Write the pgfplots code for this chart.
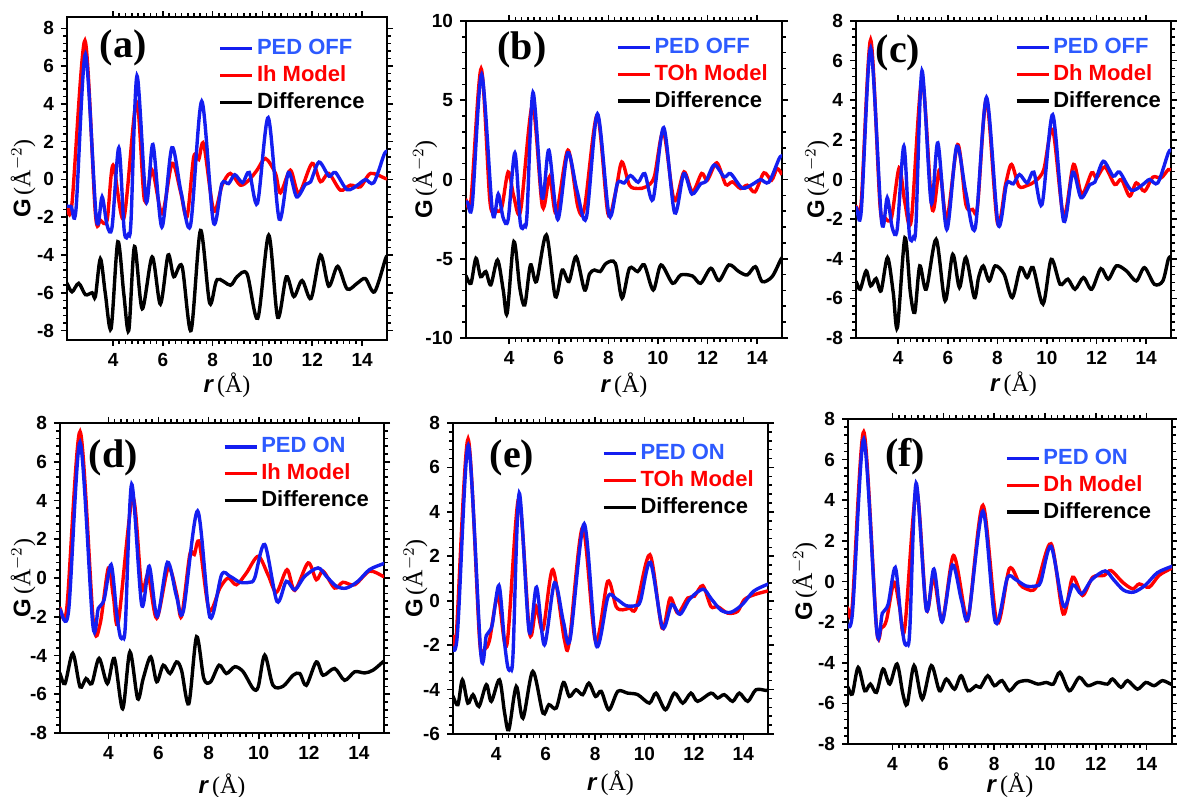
\documentclass[border=0pt]{standalone}
\usepackage{fontspec}
\setmainfont{Liberation Sans}
\newfontfamily\serif{Liberation Serif}
\usepackage{pgfplots}
\usepackage{pgfplotstable}
\pgfplotsset{compat=1.18}
\definecolor{bl}{RGB}{20,30,240}
\definecolor{blt}{RGB}{45,90,255}
\definecolor{rd}{RGB}{255,0,0}

\pgfplotstableread{
x y
2.05 -1.42
2.31 -1.43
2.51 -1.6
2.89 6.63
3.33 -2.1
3.56 -0.92
3.76 -2.43
3.96 -2.52
4.23 1.68
4.45 -2.75
4.62 -2.9
4.72 -2.2
4.96 5.49
5.33 -1.17
5.6 1.85
5.96 -2.52
6.36 1.68
6.73 -0.67
7.11 -2.43
7.56 4.14
8.03 -2.27
8.37 -0.22
8.64 -0.22
8.89 0.25
9.2 -0.17
9.47 0.37
9.8 -1.26
10.23 3.27
10.67 -2.1
11.04 0.37
11.37 -0.92
11.73 -0.25
11.93 -0.13
12.27 0.92
12.67 0.17
12.93 0.37
13.4 -0.54
13.87 -0.25
14.13 0
14.47 -0.17
14.89 1.34
15.0 1.45
}\blueOff

\pgfplotstableread{
x y
2.0 -1.62
2.07 -1.64
2.41 -1.73
2.87 7.0
3.38 -2.42
3.6 -1.56
3.83 -1.12
4.11 0.69
4.33 -1.82
4.47 -3.0
4.58 -3.06
4.68 -2.4
4.93 4.84
5.33 -1.38
5.63 0.61
5.95 -1.99
6.36 0.81
6.72 -0.95
6.99 -1.73
7.56 3.46
8.05 -2.02
8.52 0.17
8.85 0.09
9.25 -0.22
9.64 -0.22
9.84 0
10.24 1.73
10.73 -1.21
11.1 -0.17
11.44 -0.61
11.84 0.09
12.37 0.52
12.7 0.09
13.1 -0.43
13.5 -0.52
13.96 -0.17
14.42 0.43
14.98 0.74
15.0 0.75
}\blueOn

\pgfplotstableread{
x y
2.05 -1.45
2.15 -1.48
2.35 -1.27
2.87 7.35
3.29 -1.8
3.49 -2.16
3.76 -2.16
4.0 0.76
4.43 -2.07
4.94 4.12
5.26 -1.1
5.57 0.49
5.97 -1.8
6.37 0.85
6.71 -0.65
6.97 -1.98
7.24 1.2
7.44 1.06
7.64 1.87
8.04 -1.63
8.38 -0.3
8.71 0.32
9.11 -0.3
9.45 -0.04
9.78 0.49
10.12 1.11
10.52 0.32
10.72 -0.71
11.12 0.49
11.46 -0.74
11.99 0.85
12.33 -0.12
12.66 0.32
13.13 -0.57
13.53 -0.3
13.93 -0.39
14.34 0.32
14.94 0.05
15.0 0.05
}\redA

\pgfplotstableread{
x y
2.05 -5.4
2.15 -5.5
2.35 -5.95
2.62 -5.5
2.89 -6.1
3.16 -6.0
3.29 -6.2
3.49 -4.2
3.69 -6.05
3.92 -7.9
4.19 -3.3
4.43 -6.05
4.63 -8.0
4.86 -3.55
5.17 -6.85
5.57 -4.1
5.9 -6.6
6.21 -4.0
6.44 -5.15
6.77 -4.6
7.13 -8.0
7.51 -2.7
7.88 -6.55
8.18 -5.3
8.71 -5.6
8.98 -5.15
9.38 -5.0
9.81 -7.35
10.25 -2.95
10.61 -7.3
10.96 -5.15
11.26 -6.2
11.59 -5.35
11.95 -6.3
12.33 -4.0
12.66 -5.65
13.02 -4.6
13.4 -5.8
13.8 -5.5
14.13 -5.25
14.5 -5.95
14.94 -4.2
15.0 -4.1
}\diffA

\pgfplotstableread{
x y
2.2 -1.3
2.26 -1.3
2.46 -1.3
2.87 6.99
3.22 -1.3
3.42 -1.89
3.69 -1.83
3.96 0.48
4.19 -1.09
4.46 -1.97
4.94 4.68
5.34 -1.72
5.63 0.17
5.9 -2.14
6.37 1.85
6.77 -1.72
7.04 -1.76
7.55 4.05
7.98 -2.14
8.28 -0.88
8.54 1.11
8.85 -0.36
9.18 -0.57
9.52 -0.46
9.85 0.17
10.22 3.0
10.65 -1.3
11.05 0.48
11.39 -0.78
11.76 0.38
11.99 -0.04
12.37 1.05
12.73 -0.31
13.0 -0.15
13.33 -0.57
13.6 -0.36
13.91 -0.78
14.27 0.42
14.58 -0.04
14.8 0.69
15.0 0.3
}\redB

\pgfplotstableread{
x y
2.2 -6.0
2.26 -6.09
2.46 -6.55
2.66 -4.97
2.85 -6.13
3.06 -5.81
3.26 -6.65
3.53 -5.08
3.76 -6.97
3.92 -8.44
4.19 -3.92
4.43 -6.86
4.63 -7.91
4.86 -5.39
5.1 -6.44
5.5 -3.5
5.86 -7.39
6.14 -5.71
6.41 -6.44
6.7 -4.87
7.04 -6.97
7.24 -5.96
7.44 -5.71
7.67 -5.81
7.91 -5.29
8.28 -5.29
8.55 -7.49
8.85 -5.6
9.18 -5.81
9.45 -5.39
9.81 -6.97
10.12 -5.39
10.59 -6.55
10.92 -6.02
11.39 -6.09
11.72 -6.55
12.13 -5.6
12.46 -6.38
12.86 -5.39
13.26 -5.81
13.6 -6.02
13.93 -5.5
14.2 -6.44
14.6 -6.13
14.94 -5.08
15.0 -4.95
}\diffB

\pgfplotstableread{
x y
2.2 -1.38
2.31 -1.38
2.51 -1.17
2.89 7.05
3.27 -1.34
3.47 -1.93
3.73 -1.93
4.04 0.59
4.27 -1.17
4.53 -2.05
4.96 5.03
5.37 -1.48
5.67 0.5
5.96 -2.01
6.4 1.76
6.73 -1.26
7.0 -1.51
7.2 -1.34
7.56 4.03
8.0 -2.18
8.33 -0.25
8.57 0.76
8.87 -0.34
9.2 -0.3
9.53 -0.08
9.87 0.5
10.23 2.52
10.67 -1.85
11.07 0.76
11.4 -0.76
11.8 0.34
12.0 0.08
12.33 0.64
12.73 -0.25
13.0 0
13.33 -0.84
13.6 -0.17
13.93 -0.59
14.27 0.12
14.6 0.08
14.89 0.5
15.0 0.45
}\redC

\pgfplotstableread{
x y
2.2 -5.1
2.31 -5.17
2.47 -5.54
2.71 -4.61
2.89 -5.37
3.11 -5.0
3.31 -5.62
3.57 -3.94
3.8 -5.7
3.97 -7.47
4.27 -2.94
4.49 -5.7
4.67 -6.71
4.87 -4.36
5.13 -5.54
5.53 -3.02
5.89 -6.12
6.2 -3.78
6.47 -5.45
6.73 -3.94
7.07 -5.96
7.24 -4.95
7.43 -4.36
7.67 -5.12
7.91 -4.36
8.27 -4.78
8.6 -5.96
8.93 -4.45
9.2 -4.95
9.44 -4.45
9.84 -6.29
10.17 -4.03
10.53 -5.29
10.84 -5.03
11.13 -5.54
11.47 -4.95
11.8 -5.54
12.17 -4.5
12.47 -5.03
12.8 -4.36
13.2 -4.61
13.6 -5.12
13.93 -4.45
14.33 -5.29
14.67 -5.12
14.89 -4.03
15.0 -3.9
}\diffC

\pgfplotstableread{
x y
2.0 -1.56
2.07 -1.56
2.34 -1.56
2.87 7.56
3.4 -2.25
3.67 -2.37
4.0 0.52
4.2 -0.95
4.4 -2.25
4.97 4.15
5.33 -0.52
5.59 0.17
5.93 -2.08
6.39 0.52
6.72 -0.78
6.92 -1.99
7.25 1.21
7.43 1.21
7.63 1.82
8.02 -1.64
8.45 -0.52
8.78 0
9.11 -0.35
9.51 0.26
9.98 1.12
10.37 0.17
10.71 -0.74
11.13 0.43
11.44 -0.64
11.97 0.78
12.3 -0.09
12.57 0.35
13.03 -0.52
13.36 -0.22
13.83 -0.35
14.42 0.35
14.96 0.09
15.0 0.08
}\redD

\pgfplotstableread{
x y
2.0 -4.8
2.07 -4.93
2.27 -5.45
2.58 -3.89
2.87 -5.62
3.11 -5.19
3.34 -5.45
3.63 -4.15
3.96 -5.45
4.24 -4.15
4.57 -6.75
4.86 -3.81
5.17 -6.23
5.39 -5.19
5.69 -4.07
5.93 -5.36
6.19 -4.5
6.46 -4.93
6.72 -4.33
6.92 -4.76
7.21 -6.49
7.52 -3.03
7.81 -5.19
8.08 -5.36
8.42 -4.5
8.71 -4.93
9.05 -4.58
9.38 -4.84
9.78 -5.71
9.98 -5.62
10.24 -3.98
10.57 -5.54
10.97 -5.59
11.37 -5.02
11.64 -4.93
11.9 -5.54
12.3 -4.33
12.57 -5.02
13.03 -4.67
13.43 -5.28
13.83 -4.84
14.23 -4.9
14.56 -4.76
14.96 -4.33
15.0 -4.3
}\diffD

\pgfplotstableread{
x y
2.2 -1.6
2.25 -1.61
2.38 -1.61
2.86 7.28
3.33 -1.83
3.53 -2.18
3.73 -1.76
4.07 0.23
4.43 -1.98
4.91 4.6
5.35 -1.46
5.62 -0.26
5.89 -1.31
6.29 1.4
6.76 -1.76
6.96 -1.83
7.5 3.3
8.02 -1.83
8.51 0.87
8.85 -0.26
9.12 -0.41
9.39 -0.33
9.66 -0.33
10.22 2.07
10.71 -1.23
11.04 0.12
11.35 -0.56
11.75 0.12
12.02 0.2
12.36 0.68
12.69 -0.26
12.96 -0.26
13.37 -0.56
13.77 -0.48
14.04 0.05
14.44 0.27
14.92 0.42
15.0 0.45
}\redE

\pgfplotstableread{
x y
2.2 -4.2
2.25 -4.31
2.45 -4.68
2.63 -3.56
2.85 -4.61
3.06 -4.23
3.3 -4.76
3.6 -3.78
3.8 -4.53
4.13 -3.56
4.34 -5.06
4.51 -5.81
4.81 -3.86
5.08 -5.29
5.48 -3.18
5.89 -5.06
6.13 -4.68
6.43 -4.83
6.72 -3.68
6.96 -4.31
7.23 -4.01
7.5 -4.23
7.75 -3.71
8.02 -4.31
8.25 -4.08
8.56 -4.91
8.92 -4.08
9.32 -4.16
9.73 -4.23
10.2 -4.61
10.47 -4.16
10.85 -4.91
11.21 -4.16
11.55 -4.61
11.88 -4.16
12.15 -4.53
12.69 -4.16
12.96 -4.38
13.23 -4.23
13.57 -4.53
13.84 -4.16
14.18 -4.53
14.51 -4.01
14.92 -4.04
15.0 -4.02
}\diffE

\pgfplotstableread{
x y
2.2 -1.4
2.25 -1.35
2.42 -1.18
2.87 7.37
3.37 -2.25
3.56 -2.29
3.76 -1.92
4.06 -0.03
4.28 -1.27
4.48 -2.34
4.94 4.49
5.33 -1.35
5.62 0.21
5.96 -1.92
6.4 1.28
6.84 -1.43
7.01 -1.6
7.56 3.75
8.11 -2.01
8.6 0.63
9.0 -0.12
9.26 -0.36
9.65 -0.28
10.24 1.86
10.72 -1.6
11.09 0.21
11.48 -0.69
11.88 0.21
12.33 0.3
12.6 0.54
13.05 -0.03
13.45 -0.36
13.71 -0.12
14.1 -0.28
14.49 0.3
14.95 0.63
15.0 0.65
}\redF

\pgfplotstableread{
x y
2.2 -5.1
2.25 -5.21
2.42 -5.54
2.65 -4.23
2.91 -5.38
3.13 -5.05
3.37 -5.46
3.63 -4.31
3.89 -5.05
4.18 -4.06
4.41 -5.54
4.58 -6.04
4.85 -4.14
5.17 -5.79
5.53 -4.14
5.85 -5.38
6.12 -4.8
6.44 -5.3
6.7 -4.64
6.97 -5.38
7.29 -5.13
7.46 -5.21
7.75 -4.64
8.01 -5.13
8.31 -4.88
8.6 -5.38
8.93 -4.97
9.32 -4.88
9.72 -5.05
10.05 -4.97
10.33 -5.05
10.59 -4.47
10.96 -5.38
11.35 -4.72
11.68 -5.13
12.07 -4.97
12.46 -5.05
12.66 -4.8
12.99 -5.21
13.25 -4.88
13.64 -5.3
13.97 -4.97
14.3 -5.13
14.62 -4.88
14.95 -5.05
15.0 -5.0
}\diffF

\pgfplotsset{
 P/.style={
  scale only axis, anchor=south west, xmax=15,
  axis line style={line width=1.3pt},
  tick align=outside,
  major tick length=3pt, minor tick length=1.8pt,
  every tick/.style={black, line width=0.8pt},
  xtick={4,6,...,14}, minor x tick num=7,
  ticklabel style={font=\bfseries\fontsize{9.5}{11}\selectfont},
  /pgf/number format/assume math mode=true,
  xlabel={{\bfseries\itshape r}\,{\serif(Å)}},
  ylabel={{\bfseries G}\,{\serif(Å$^{-2}$)}},
  label style={font=\fontsize{12}{14}\selectfont},
  legend style={draw=none, fill=none, anchor=north east,
    font=\bfseries\fontsize{11}{13}\selectfont, row sep=2pt, inner sep=1pt,
    nodes={inner xsep=1.5pt, inner ysep=1pt},
    cells={anchor=west}},
  legend image code/.code={\draw[#1] (0pt,0pt) -- (16pt,0pt);},
  every axis plot/.append style={line width=1.7pt, smooth, tension=0.5},
 },
 yl/.style={ylabel style={at={(axis description cs:#1,0.5)}, anchor=center}},
 xl/.style={xlabel style={at={(axis description cs:0.5,#1)}, anchor=center}},
}
\tikzset{lab/.style={font=\serif\bfseries\fontsize{20}{22}\selectfont}}

\begin{document}
\begin{tikzpicture}
\useasboundingbox (0,0) rectangle (588.5pt,398.5pt);

% (a)
\begin{axis}[P, yl=-0.137, xl=-0.139, at={(33.5pt,228.5pt)}, width=160pt, height=161.5pt,
  xmin=2.15, ymin=-8.5, ymax=8.6, ytick={-8,-6,...,8}, minor y tick num=4,
  legend style={at={(0.947,0.944)}}]
\addlegendimage{bl, line width=1.7pt}\addlegendentry{\textcolor{blt}{PED OFF}}
\addlegendimage{rd, line width=1.7pt}\addlegendentry{\textcolor{rd}{Ih Model}}
\addlegendimage{black, line width=1.7pt}\addlegendentry{Difference}
\addplot[rd, forget plot] table {\redA};
\addplot[bl, forget plot] table {\blueOff};
\addplot[black, forget plot] table {\diffA};
\node[lab] at (rel axis cs:0.175,0.904) {(a)};
\end{axis}

% (b)
\begin{axis}[P, yl=-0.13, xl=-0.148, at={(233pt,229.5pt)}, width=158pt, height=158.5pt,
  xmin=2.26, ymin=-10, ymax=10, ytick={-10,-5,0,5,10}, minor y tick num=4,
  legend style={at={(0.972,0.959)}}]
\addlegendimage{bl, line width=1.7pt}\addlegendentry{\textcolor{blt}{PED OFF}}
\addlegendimage{rd, line width=1.7pt}\addlegendentry{\textcolor{rd}{TOh Model}}
\addlegendimage{black, line width=1.7pt}\addlegendentry{Difference}
\addplot[rd, forget plot] table {\redB};
\addplot[bl, forget plot] table {\blueOff};
\addplot[black, forget plot] table {\diffB};
\node[lab] at (rel axis cs:0.177,0.908) {(b)};
\end{axis}

% (c)
\begin{axis}[P, yl=-0.124, xl=-0.145, at={(428pt,229.5pt)}, width=157.5pt, height=158.5pt,
  xmin=2.3, ymin=-8, ymax=8, ytick={-8,-6,...,8}, minor y tick num=4,
  legend style={at={(0.985,0.959)}}]
\addlegendimage{bl, line width=1.7pt}\addlegendentry{\textcolor{blt}{PED OFF}}
\addlegendimage{rd, line width=1.7pt}\addlegendentry{\textcolor{rd}{Dh Model}}
\addlegendimage{black, line width=1.7pt}\addlegendentry{Difference}
\addplot[rd, forget plot] table {\redC};
\addplot[bl, forget plot] table {\blueOff};
\addplot[black, forget plot] table {\diffC};
\node[lab] at (rel axis cs:0.133,0.899) {(c)};
\end{axis}

% (d)
\begin{axis}[P, yl=-0.114, xl=-0.171, at={(30pt,32pt)}, width=162pt, height=155pt,
  xmin=2.07, ymin=-8, ymax=8, ytick={-8,-6,...,8}, minor y tick num=4,
  legend style={at={(0.97,0.967)}}]
\addlegendimage{bl, line width=1.7pt}\addlegendentry{\textcolor{blt}{PED ON}}
\addlegendimage{rd, line width=1.7pt}\addlegendentry{\textcolor{rd}{Ih Model}}
\addlegendimage{black, line width=1.7pt}\addlegendentry{Difference}
\addplot[rd, forget plot] table {\redD};
\addplot[bl, forget plot] table {\blueOn};
\addplot[black, forget plot] table {\diffD};
\node[lab] at (rel axis cs:0.164,0.887) {(d)};
\end{axis}

% (e)
\begin{axis}[P, yl=-0.12, xl=-0.158, at={(226.5pt,31.5pt)}, width=157.5pt, height=155.5pt,
  xmin=2.25, ymin=-6, ymax=8, ytick={-6,-4,...,8}, minor y tick num=4,
  legend style={at={(0.972,0.945)}}]
\addlegendimage{bl, line width=1.7pt}\addlegendentry{\textcolor{blt}{PED ON}}
\addlegendimage{rd, line width=1.7pt}\addlegendentry{\textcolor{rd}{TOh Model}}
\addlegendimage{black, line width=1.7pt}\addlegendentry{Difference}
\addplot[rd, forget plot] table {\redE};
\addplot[bl, forget plot] table {\blueOn};
\addplot[black, forget plot] table {\diffE};
\node[lab] at (rel axis cs:0.187,0.887) {(e)};
\end{axis}

% (f)
\begin{axis}[P, yl=-0.133, xl=-0.126, at={(424pt,26.5pt)}, width=162pt, height=162.5pt,
  xmin=2.25, ymin=-8, ymax=8, ytick={-8,-6,...,8}, minor y tick num=4,
  legend style={at={(0.952,0.92)}}]
\addlegendimage{bl, line width=1.7pt}\addlegendentry{\textcolor{blt}{PED ON}}
\addlegendimage{rd, line width=1.7pt}\addlegendentry{\textcolor{rd}{Dh Model}}
\addlegendimage{black, line width=1.7pt}\addlegendentry{Difference}
\addplot[rd, forget plot] table {\redF};
\addplot[bl, forget plot] table {\blueOn};
\addplot[black, forget plot] table {\diffF};
\node[lab] at (rel axis cs:0.176,0.883) {(f)};
\end{axis}
\end{tikzpicture}
\end{document}
